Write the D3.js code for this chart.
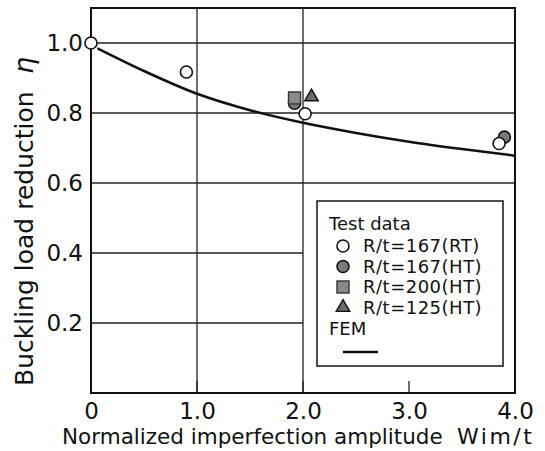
<!DOCTYPE html>
<html>
<head>
<meta charset="utf-8">
<script src="https://cdn.jsdelivr.net/npm/d3@7"></script>
<style>
  html, body { margin: 0; padding: 0; background: #fff; }
  svg text { font-family: "DejaVu Sans", sans-serif; fill: #111; }
</style>
</head>
<body>
<svg id="chart" width="545" height="451"></svg>
<script>
// Test results: normalized imperfection amplitude vs. buckling load reduction
const rt167 = [[0.0, 1.0], [0.9, 0.917], [2.02, 0.798], [3.85, 0.713]];
const ht167 = [[1.92, 0.828], [3.9, 0.731]];
const ht200 = [[1.92, 0.843]];
const ht125 = [[2.08, 0.846]];
// FEM prediction curve
const femCurve = [[0.06, 0.985], [0.5, 0.92], [1.0, 0.855], [1.5, 0.808], [2.0, 0.772],
                  [2.5, 0.743], [3.0, 0.718], [3.5, 0.697], [4.0, 0.678]];
const xTicks = [0, 1, 2, 3, 4];
const xTickLabels = ["0", "1.0", "2.0", "3.0", "4.0"];
const yTicks = [0.2, 0.4, 0.6, 0.8, 1.0];
const yTickLabels = ["0.2", "0.4", "0.6", "0.8", "1.0"];
const xGrid = [1, 2];
const xInnerTicks = [1, 2, 3];
const legendRows = ["R/t=167(RT)", "R/t=167(HT)", "R/t=200(HT)", "R/t=125(HT)"];

const svg = d3.select("#chart");
const x = d3.scaleLinear().domain([0, 4]).range([91, 515]);
const y = d3.scaleLinear().domain([0, 1.1]).range([393, 8]);

const legend = { x0: 317, y0: 201, x1: 503, y1: 366 };

// grid lines
const grid = svg.append("g").attr("stroke", "#222").attr("stroke-width", 1.3);
grid.selectAll("line.h").data(yTicks).join("line")
  .attr("x1", x(0)).attr("x2", d => y(d) > legend.y0 ? x(2) : x(4))
  .attr("y1", d => y(d)).attr("y2", d => y(d));
grid.selectAll("line.v").data(xGrid).join("line")
  .attr("x1", d => x(d)).attr("x2", d => x(d))
  .attr("y1", y(1.1)).attr("y2", y(0));
grid.selectAll("line.t").data(xInnerTicks).join("line")
  .attr("x1", d => x(d)).attr("x2", d => x(d))
  .attr("y1", y(0) - 12).attr("y2", y(0));

// frame
svg.append("rect")
  .attr("x", x(0)).attr("y", y(1.1))
  .attr("width", x(4) - x(0)).attr("height", y(0) - y(1.1))
  .attr("fill", "none").attr("stroke", "#111").attr("stroke-width", 2);

// tick labels via d3 axes (domain and tick lines hidden)
const xAxis = svg.append("g").attr("transform", `translate(0,${y(0)})`)
  .call(d3.axisBottom(x).tickValues(xTicks).tickFormat((d, i) => xTickLabels[i]).tickSize(0).tickPadding(10));
xAxis.select(".domain").remove();
xAxis.selectAll("text").attr("font-size", 23).attr("font-family", "DejaVu Sans").attr("fill", "#111");

const yAxis = svg.append("g").attr("transform", `translate(${x(0)},0)`)
  .call(d3.axisLeft(y).tickValues(yTicks).tickFormat((d, i) => yTickLabels[i]).tickSize(0).tickPadding(8));
yAxis.select(".domain").remove();
yAxis.selectAll("text").attr("font-size", 23).attr("font-family", "DejaVu Sans").attr("fill", "#111");

// axis titles
svg.append("text")
  .attr("x", 62).attr("y", 444)
  .attr("font-size", 21.5)
  .text("Normalized imperfection amplitude");
svg.append("text")
  .attr("x", 457).attr("y", 444)
  .attr("font-size", 22).attr("letter-spacing", 2.5)
  .text("Wim/t");

svg.append("text")
  .attr("transform", "translate(33,386) rotate(-90)")
  .attr("font-size", 25)
  .text("Buckling load reduction");
svg.append("text")
  .attr("transform", "translate(33,74) rotate(-90)")
  .attr("font-size", 27).attr("font-style", "italic")
  .text("η");

// FEM curve
const line = d3.line().x(d => x(d[0])).y(d => y(d[1])).curve(d3.curveMonotoneX);
svg.append("path").datum(femCurve)
  .attr("d", line).attr("fill", "none").attr("stroke", "#111").attr("stroke-width", 2.5);

// markers
const R = 6;
function circle(g, cx, cy, fill) {
  g.append("circle").attr("cx", cx).attr("cy", cy).attr("r", R)
    .attr("fill", fill).attr("stroke", "#111").attr("stroke-width", 1.6);
}
function square(g, cx, cy) {
  g.append("rect").attr("x", cx - R).attr("y", cy - R).attr("width", 2 * R).attr("height", 2 * R)
    .attr("fill", "#8a8a8a").attr("stroke", "#333").attr("stroke-width", 1.4);
}
function triangle(g, cx, cy) {
  g.append("path").attr("d", d3.symbol(d3.symbolTriangle, 80)())
    .attr("transform", `translate(${cx},${cy})`)
    .attr("fill", "#6a6a6a").attr("stroke", "#111").attr("stroke-width", 1.4);
}
const pts = svg.append("g");
ht167.forEach(d => circle(pts, x(d[0]), y(d[1]), "#7a7a7a"));
ht200.forEach(d => square(pts, x(d[0]), y(d[1])));
ht125.forEach(d => triangle(pts, x(d[0]), y(d[1])));
rt167.forEach(d => circle(pts, x(d[0]), y(d[1]), "#fff"));

// legend
const lg = svg.append("g");
lg.append("rect").attr("x", legend.x0).attr("y", legend.y0)
  .attr("width", legend.x1 - legend.x0).attr("height", legend.y1 - legend.y0)
  .attr("fill", "#fff").attr("stroke", "#222").attr("stroke-width", 1.6);
lg.append("text").attr("x", 329).attr("y", 230).attr("font-size", 18).text("Test data");
legendRows.forEach((label, i) => {
  const cy = 246 + i * 20.5;
  if (i === 0) circle(lg, 343, cy, "#fff");
  if (i === 1) circle(lg, 343, cy, "#7a7a7a");
  if (i === 2) square(lg, 343, cy);
  if (i === 3) triangle(lg, 343, cy);
  lg.append("text").attr("x", 363).attr("y", cy + 6).attr("font-size", 18)
    .attr("letter-spacing", 0.5).text(label);
});
lg.append("text").attr("x", 329).attr("y", 335).attr("font-size", 18).text("FEM");
lg.append("line").attr("x1", 343).attr("x2", 378).attr("y1", 352).attr("y2", 352)
  .attr("stroke", "#111").attr("stroke-width", 2.5);
</script>
</body>
</html>
